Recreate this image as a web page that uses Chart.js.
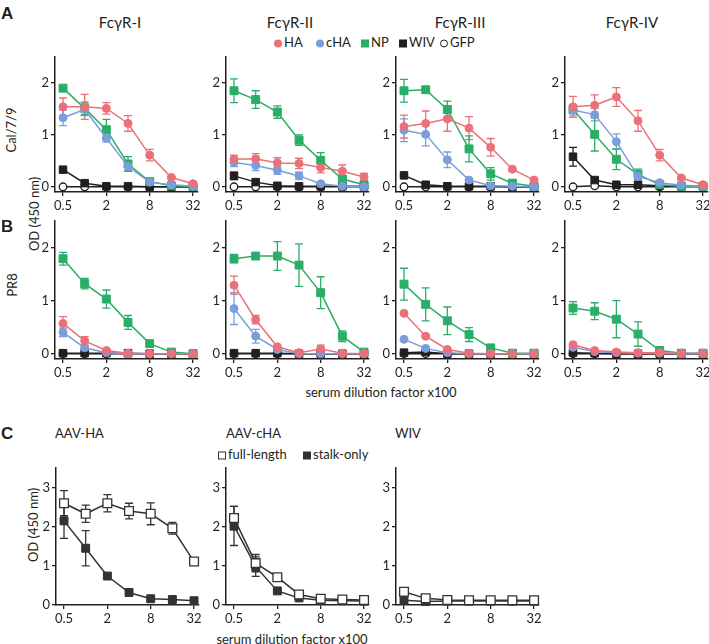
<!DOCTYPE html>
<html lang="en">
<head>
<meta charset="UTF-8" />
<title>FcγR binding of antisera</title>
<script src="https://cdn.jsdelivr.net/npm/chart.js"></script>
<style>
  body {
    margin: 0;
    width: 709px;
    height: 644px;
    overflow: hidden;
    background: #fff;
    position: relative;
    font-family: Lato, "Open Sans", sans-serif;
    color: #231f20;
  }
  .txt { position: absolute; white-space: nowrap; font-size: 13px; line-height: 1; }
  .center { transform: translate(-50%, -50%); }
  .left { transform: translateY(-50%); }
  .vert { transform: translate(-50%, -50%) rotate(-90deg); }
  .title { font-size: 15px; }
  .letter { position: absolute; font: bold 17px Arial, "Liberation Sans", sans-serif; line-height: 1; transform: translateY(-50%); }
  canvas { position: absolute; }
  .mk { display: inline-block; width: 8px; height: 8px; margin-right: 2px; vertical-align: -1px; box-sizing: border-box; }
</style>
</head>
<body>

<div id="labels"></div>

<script>
  // ==== DATA ====
  const dilutions = [0.5, 1, 2, 4, 8, 16, 32];   // serum dilution factor x100
  const xTickValues = [0.5, 2, 8, 32];
  const yTicksAB = [0, 1, 2];
  const yTicksC = [0, 1, 2, 3];

  const receptorTitles = ['FcγR-I', 'FcγR-II', 'FcγR-III', 'FcγR-IV'];
  const virusRows = ['Cal/7/9', 'PR8'];
  const antigenNames = ['HA', 'cHA', 'NP', 'WIV', 'GFP'];
  const aavTitles = ['AAV-HA', 'AAV-cHA', 'WIV'];
  const constructNames = ['full-length', 'stalk-only'];

  // Cal/7/9, one row per receptor (I..IV)
  const calHA = [
    [1.54, 1.54, 1.51, 1.22, 0.61, 0.18, 0.06],
    [0.53, 0.54, 0.46, 0.45, 0.37, 0.30, 0.19],
    [1.16, 1.22, 1.31, 1.13, 0.76, 0.34, 0.13],
    [1.54, 1.57, 1.73, 1.27, 0.61, 0.17, 0.04]
  ];
  const calHAErr = [
    [0.17, 0.24, 0.11, 0.15, 0.11, 0.02, 0.02],
    [0.08, 0.10, 0.10, 0.10, 0.10, 0.12, 0.07],
    [0.22, 0.24, 0.24, 0.22, 0.17, 0.03, 0.03],
    [0.20, 0.20, 0.18, 0.20, 0.11, 0.03, 0.02]
  ];
  const calCHA = [
    [1.33, 1.49, 0.94, 0.39, 0.09, 0.04, 0.01],
    [0.47, 0.41, 0.32, 0.21, 0.06, 0.01, 0.00],
    [1.09, 1.01, 0.52, 0.13, 0.02, 0.01, 0.00],
    [1.48, 1.39, 0.87, 0.20, 0.08, 0.03, 0.01]
  ];
  const calCHAErr = [
    [0.15, 0.12, 0.08, 0.08, 0.03, 0.02, 0.01],
    [0.08, 0.10, 0.08, 0.07, 0.02, 0.01, 0.00],
    [0.22, 0.22, 0.15, 0.03, 0.02, 0.01, 0.00],
    [0.10, 0.12, 0.15, 0.10, 0.03, 0.02, 0.01]
  ];
  const calNP = [
    [1.90, 1.51, 1.10, 0.44, 0.10, 0.02, 0.01],
    [1.85, 1.68, 1.44, 0.90, 0.51, 0.15, 0.04],
    [1.85, 1.87, 1.49, 0.73, 0.25, 0.07, 0.01],
    [1.49, 1.01, 0.53, 0.24, 0.04, 0.01, 0.01]
  ];
  const calNPErr = [
    [0.02, 0.12, 0.20, 0.14, 0.03, 0.01, 0.01],
    [0.23, 0.17, 0.12, 0.10, 0.15, 0.05, 0.02],
    [0.22, 0.02, 0.16, 0.25, 0.12, 0.03, 0.01],
    [0.05, 0.32, 0.20, 0.10, 0.02, 0.01, 0.01]
  ];
  const calWIV = [
    [0.33, 0.07, 0.01, 0.01, 0.00, 0.00, 0.00],
    [0.21, 0.09, 0.02, 0.01, 0.01, 0.01, 0.01],
    [0.22, 0.04, 0.01, 0.01, 0.01, 0.00, 0.00],
    [0.58, 0.13, 0.04, 0.04, 0.02, 0.01, 0.01]
  ];
  const calWIVErr = [
    [0.02, 0.02, 0.01, 0.00, 0.00, 0.00, 0.00],
    [0.07, 0.03, 0.01, 0.00, 0.00, 0.00, 0.00],
    [0.02, 0.02, 0.00, 0.00, 0.00, 0.00, 0.00],
    [0.18, 0.04, 0.02, 0.01, 0.00, 0.00, 0.00]
  ];
  const calGFP = [
    [0, 0, 0, 0, 0, 0, 0],
    [0, 0, 0, 0, 0, 0, 0],
    [0, 0, 0, 0, 0, 0, 0],
    [0, 0.02, 0, 0, 0, 0, 0]
  ];

  // PR8, one row per receptor (I..IV)
  const prHA = [
    [0.57, 0.24, 0.06, 0.01, 0.00, 0.00, 0.00],
    [1.29, 0.64, 0.13, 0.02, 0.09, 0.01, 0.00],
    [0.76, 0.33, 0.08, 0.01, 0.00, 0.00, 0.00],
    [0.17, 0.06, 0.03, 0.02, 0.02, 0.01, 0.01]
  ];
  const prHAErr = [
    [0.13, 0.08, 0.02, 0.00, 0.00, 0.00, 0.00],
    [0.17, 0.08, 0.03, 0.01, 0.07, 0.00, 0.00],
    [0.03, 0.03, 0.02, 0.00, 0.00, 0.00, 0.00],
    [0.03, 0.02, 0.01, 0.00, 0.00, 0.00, 0.00]
  ];
  const prCHA = [
    [0.40, 0.11, 0.02, 0.00, 0.00, 0.00, 0.00],
    [0.85, 0.33, 0.08, 0.00, 0.00, 0.00, 0.00],
    [0.27, 0.10, 0.02, 0.00, 0.00, 0.00, 0.00],
    [0.12, 0.04, 0.02, 0.01, 0.01, 0.00, 0.00]
  ];
  const prCHAErr = [
    [0.08, 0.03, 0.01, 0.00, 0.00, 0.00, 0.00],
    [0.30, 0.13, 0.02, 0.00, 0.00, 0.00, 0.00],
    [0.02, 0.02, 0.00, 0.00, 0.00, 0.00, 0.00],
    [0.02, 0.01, 0.00, 0.00, 0.00, 0.00, 0.00]
  ];
  const prNP = [
    [1.79, 1.32, 1.03, 0.59, 0.19, 0.03, 0.00],
    [1.79, 1.84, 1.84, 1.67, 1.15, 0.33, 0.03],
    [1.31, 0.93, 0.62, 0.36, 0.11, 0.01, 0.01],
    [0.86, 0.80, 0.65, 0.37, 0.06, 0.01, 0.01]
  ];
  const prNPErr = [
    [0.12, 0.10, 0.17, 0.13, 0.03, 0.01, 0.00],
    [0.08, 0.03, 0.27, 0.40, 0.30, 0.10, 0.01],
    [0.30, 0.31, 0.26, 0.13, 0.03, 0.01, 0.00],
    [0.12, 0.16, 0.35, 0.23, 0.03, 0.01, 0.00]
  ];
  const prWIV = [
    [0.01, 0.01, 0.01, 0.01, 0.00, 0.00, 0.00],
    [0.01, 0.01, 0.01, 0.00, 0.00, 0.00, 0.00],
    [0.02, 0.03, 0.00, 0.00, 0.00, 0.00, 0.00],
    [0.02, 0.01, 0.00, 0.00, 0.00, 0.00, 0.00]
  ];
  const prGFP = [
    [0, 0, 0, 0, 0, 0, 0],
    [0, 0, 0, 0, 0, 0, 0],
    [0, 0, 0, 0, 0, 0, 0],
    [0, 0, 0, 0, 0, 0, 0]
  ];

  // Panel C, one row per immunogen (AAV-HA, AAV-cHA, WIV)
  const aavFull = [
    [2.60, 2.33, 2.60, 2.40, 2.33, 1.96, 1.11],
    [2.22, 1.07, 0.71, 0.27, 0.16, 0.14, 0.13],
    [0.34, 0.17, 0.13, 0.12, 0.12, 0.12, 0.12]
  ];
  const aavFullErr = [
    [0.32, 0.22, 0.22, 0.20, 0.28, 0.15, 0.02],
    [0.30, 0.22, 0.08, 0.03, 0.02, 0.01, 0.01],
    [0.02, 0.02, 0.01, 0.01, 0.01, 0.01, 0.01]
  ];
  const aavStalk = [
    [2.15, 1.45, 0.74, 0.32, 0.16, 0.14, 0.11],
    [2.02, 0.98, 0.36, 0.18, 0.12, 0.11, 0.10],
    [0.12, 0.09, 0.10, 0.10, 0.10, 0.10, 0.10]
  ];
  const aavStalkErr = [
    [0.45, 0.45, 0.05, 0.03, 0.02, 0.01, 0.01],
    [0.50, 0.25, 0.03, 0.02, 0.01, 0.01, 0.01],
    [0.01, 0.01, 0.00, 0.00, 0.00, 0.00, 0.00]
  ];

  // ==== STYLE / LAYOUT ====
  const INK = '#231f20';
  const FONT = 'Lato, "Open Sans", sans-serif';
  const colHA = '#ec7079';
  const colCHA = '#7a9edb';
  const colNP = '#2aae67';
  const colStalk = '#333333';

  const Y_W = 24, X_H = 22, PAD_T = 10, PAD_R = 14, PLOT_W = 143;
  const X_MIN = 0.387, X_MAX = 37.5;
  const axisXAB = [55, 225.5, 395.5, 565];
  const axisXC = [56, 226, 396];
  const rowA = { top: 57, bottom: 192, yMin: -0.1, yMax: 2.5, yTicks: yTicksAB };
  const rowB = { top: 221, bottom: 359, yMin: -0.1, yMax: 2.5, yTicks: yTicksAB };
  const rowC = { top: 468, bottom: 605, yMin: 0, yMax: 3.5, yTicks: yTicksC };

  // draws error bars under the markers
  const errorBars = {
    id: 'errorBars',
    beforeDatasetsDraw(chart) {
      const ctx = chart.ctx;
      const ys = chart.scales.y;
      chart.data.datasets.forEach((ds, di) => {
        if (!ds.errors) return;
        const meta = chart.getDatasetMeta(di);
        ctx.save();
        ctx.strokeStyle = ds.borderColor;
        ctx.lineWidth = 1.3;
        meta.data.forEach((pt, i) => {
          const e = ds.errors[i];
          if (!e) return;
          const v = ds.data[i].y;
          const y1 = ys.getPixelForValue(v + e);
          const y2 = ys.getPixelForValue(v - e);
          ctx.beginPath();
          ctx.moveTo(pt.x, y1); ctx.lineTo(pt.x, y2);
          ctx.moveTo(pt.x - 4, y1); ctx.lineTo(pt.x + 4, y1);
          ctx.moveTo(pt.x - 4, y2); ctx.lineTo(pt.x + 4, y2);
          ctx.stroke();
        });
        ctx.restore();
      });
    }
  };

  function series(label, values, errors, color, fill, style, radius) {
    return {
      label: label,
      data: values.map((v, i) => ({ x: dilutions[i], y: v })),
      errors: errors,
      borderColor: color,
      backgroundColor: fill,
      pointBackgroundColor: fill,
      pointBorderColor: color,
      pointStyle: style,
      pointRadius: radius,
      pointBorderWidth: fill === '#ffffff' ? 1.3 : 1,
      borderWidth: 1.5,
      tension: 0,
      fill: false,
      clip: false
    };
  }

  function makePanel(axisX, row, datasets) {
    const canvas = document.createElement('canvas');
    const w = Y_W + PLOT_W + PAD_R;
    const h = PAD_T + (row.bottom - row.top) + X_H;
    canvas.width = w;
    canvas.height = h;
    canvas.style.left = (axisX - Y_W) + 'px';
    canvas.style.top = (row.top - PAD_T) + 'px';
    document.body.appendChild(canvas);

    const axisStyle = {
      grid: { display: true, drawOnChartArea: false, drawTicks: true, tickLength: 4, color: INK, lineWidth: 1.3 },
      border: { display: true, color: INK, width: 1.5 }
    };

    const chart = new Chart(canvas.getContext('2d'), {
      type: 'line',
      data: { datasets: datasets },
      options: {
        responsive: false,
        animation: false,
        events: [],
        layout: { padding: { top: PAD_T, right: PAD_R, left: 0, bottom: 0 } },
        plugins: { legend: { display: false }, tooltip: { enabled: false } },
        scales: {
          x: Object.assign({
            type: 'logarithmic',
            min: X_MIN,
            max: X_MAX,
            afterBuildTicks: (s) => { s.ticks = xTickValues.map(v => ({ value: v })); },
            afterFit: (s) => { s.height = X_H; },
            ticks: { callback: (v) => String(v), autoSkip: false, maxRotation: 0, padding: 2, color: INK, font: { family: FONT, size: 13 } }
          }, axisStyle),
          y: Object.assign({
            type: 'linear',
            min: row.yMin,
            max: row.yMax,
            afterBuildTicks: (s) => { s.ticks = row.yTicks.map(v => ({ value: v })); },
            afterFit: (s) => { s.width = Y_W; },
            ticks: { padding: 2, color: INK, font: { family: FONT, size: 13 } }
          }, axisStyle)
        }
      },
      plugins: [errorBars]
    });

    // line the plot area up with the target axis position
    const ca = chart.chartArea;
    canvas.style.left = (axisX - ca.left) + 'px';
    canvas.style.top = (row.top - ca.top) + 'px';
    return chart;
  }

  function receptorDatasets(ha, haE, cha, chaE, np, npE, wiv, wivE, gfp, r) {
    return [
      series(antigenNames[0], ha[r], haE[r], colHA, colHA, 'circle', 4),
      series(antigenNames[1], cha[r], chaE[r], colCHA, colCHA, 'circle', 4),
      series(antigenNames[2], np[r], npE[r], colNP, colNP, 'rect', 5.6),
      series(antigenNames[3], wiv[r], wivE ? wivE[r] : null, INK, INK, 'rect', 5.3),
      series(antigenNames[4], gfp[r], null, INK, '#ffffff', 'circle', 3.8)
    ];
  }

  // ==== ROWS A and B ====
  for (let r = 0; r < 4; r++) {
    makePanel(axisXAB[r], rowA, receptorDatasets(calHA, calHAErr, calCHA, calCHAErr, calNP, calNPErr, calWIV, calWIVErr, calGFP, r));
    makePanel(axisXAB[r], rowB, receptorDatasets(prHA, prHAErr, prCHA, prCHAErr, prNP, prNPErr, prWIV, null, prGFP, r));
  }

  // ==== ROW C ====
  for (let p = 0; p < 3; p++) {
    makePanel(axisXC[p], rowC, [
      series(constructNames[0], aavFull[p], aavFullErr[p], colStalk, '#ffffff', 'rect', 6.2),
      series(constructNames[1], aavStalk[p], aavStalkErr[p], colStalk, colStalk, 'rect', 5.6)
    ]);
  }

  // ==== TEXT ====
  const labels = document.getElementById('labels');
  function addText(text, x, y, cls) {
    const d = document.createElement('div');
    d.className = 'txt ' + cls;
    d.style.left = x + 'px';
    d.style.top = y + 'px';
    d.innerHTML = text;
    labels.appendChild(d);
    return d;
  }
  function marker(color, fill, round) {
    return '<span class="mk" style="background:' + fill + ';border:' + (fill === '#ffffff' ? '1.4px solid ' + color : 'none') +
      ';border-radius:' + (round ? '50%' : '0') + '"></span>';
  }

  ['A', 'B', 'C'].forEach((l, i) => {
    const d = document.createElement('div');
    d.className = 'letter';
    d.textContent = l;
    d.style.left = '1px';
    d.style.top = [13, 226, 433][i] + 'px';
    document.body.appendChild(d);
  });

  const titleX = [120, 290, 460, 632];
  receptorTitles.forEach((t, i) => addText(t, titleX[i], 22, 'center title'));

  const legendX = [274, 316, 361, 399, 440];
  const legendMarks = [
    marker(colHA, colHA, true), marker(colCHA, colCHA, true), marker(colNP, colNP, false),
    marker(INK, INK, false), marker(INK, '#ffffff', true)
  ];
  antigenNames.forEach((n, i) => addText(legendMarks[i] + n, legendX[i], 42, 'left'));

  addText(virusRows[0], 11, 130, 'vert');
  addText(virusRows[1], 12, 285, 'vert');
  addText('OD (450 nm)', 34, 214, 'vert');
  addText('OD (450 nm)', 33, 525, 'vert');

  addText('serum dilution factor x100', 381, 392, 'center');
  addText('serum dilution factor x100', 292, 639, 'center');

  const aavTitleX = [55, 226, 395];
  aavTitles.forEach((t, i) => addText(t, aavTitleX[i], 433, 'left'));

  addText(marker(colStalk, '#ffffff', false) + constructNames[0], 218, 454, 'left');
  addText(marker(colStalk, colStalk, false) + constructNames[1], 303, 454, 'left');
</script>
</body>
</html>
